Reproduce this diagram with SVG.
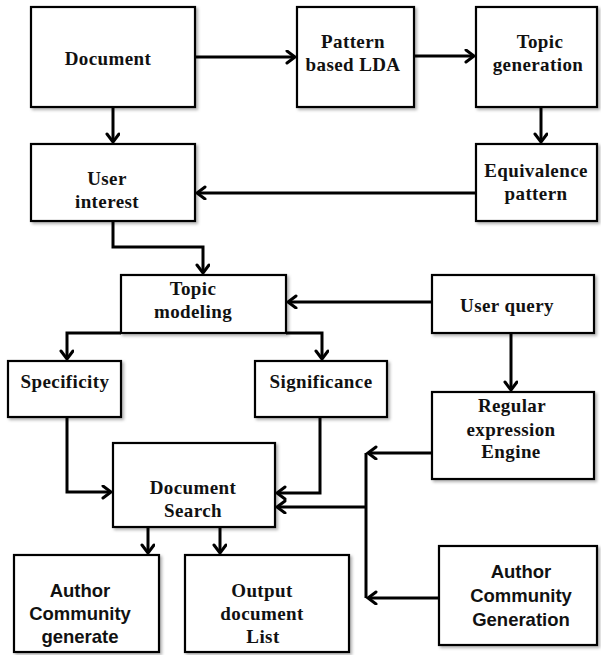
<svg xmlns="http://www.w3.org/2000/svg" width="601" height="655" viewBox="0 0 601 655">
<defs>
<filter id="sh" x="-10%" y="-10%" width="130%" height="130%">
<feDropShadow dx="2" dy="2" stdDeviation="1.5" flood-color="#000" flood-opacity="0.3"/>
</filter>
<marker id="ah" markerWidth="14" markerHeight="16" refX="10" refY="7" orient="auto" markerUnits="userSpaceOnUse">
<path d="M2,1 L10,7 L2,13" fill="none" stroke="#000" stroke-width="3" stroke-linecap="round" stroke-linejoin="miter"/>
</marker>
</defs>
<style>
rect{fill:#fff;stroke:#000;stroke-width:2.2;filter:url(#sh)}
text{font-family:"Liberation Serif","Times New Roman",serif;font-weight:bold;font-size:19px;fill:#111;text-anchor:middle;letter-spacing:0.4px}
text.s{font-family:"Liberation Sans",Arial,sans-serif;font-size:18.5px;letter-spacing:0}
.c path{fill:none;stroke:#000;stroke-width:3}
.c .a{marker-end:url(#ah)}
</style>
<rect x="0" y="0" width="601" height="655" style="fill:#fff;stroke:none;filter:none"/>
<g class="c" id="connectors">
<path class="a" d="M195,57 H295"/>
<path class="a" d="M414,56 H474"/>
<path class="a" d="M541,107 V142"/>
<path class="a" d="M476,193 H197"/>
<path class="a" d="M113,107 V142"/>
<path class="a" d="M113,221 V247 H203 V273"/>
<path class="a" d="M432,302 H288"/>
<path class="a" d="M121,333 H67 V359"/>
<path class="a" d="M286,333 H322 V359"/>
<path class="a" d="M511,333 V390"/>
<path class="a" d="M67,417 V492 H111"/>
<path class="a" d="M320,417 V493 H277"/>
<path d="M366,453 V598"/>
<path class="a" d="M366,507 H277"/>
<path class="a" d="M432,453 H368"/>
<path class="a" d="M439,598 H368"/>
<path class="a" d="M148,527 V553"/>
<path class="a" d="M220,527 V553"/>
</g>
<g id="document"><rect x="31" y="7" width="164" height="100"/><text x="108" y="65">Document</text></g>
<g id="pattern-lda"><rect x="297" y="7" width="117" height="100"/><text x="353" y="48">Pattern</text><text x="353" y="71">based LDA</text></g>
<g id="topic-generation"><rect x="476" y="7" width="121" height="100"/><text x="540" y="48">Topic</text><text x="538" y="71">generation</text></g>
<g id="user-interest"><rect x="31" y="144" width="164" height="77"/><text x="107" y="185">User</text><text x="107" y="208">interest</text></g>
<g id="equivalence"><rect x="476" y="144" width="121" height="77"/><text x="536" y="177">Equivalence</text><text x="536" y="200">pattern</text></g>
<g id="topic-modeling"><rect x="121" y="275" width="165" height="58"/><text x="193" y="295">Topic</text><text x="193" y="318">modeling</text></g>
<g id="user-query"><rect x="432" y="275" width="162" height="58"/><text x="507" y="312">User query</text></g>
<g id="specificity"><rect x="8" y="361" width="113" height="56"/><text x="65" y="388">Specificity</text></g>
<g id="significance"><rect x="255" y="361" width="132" height="56"/><text x="321" y="388">Significance</text></g>
<g id="regex-engine"><rect x="432" y="392" width="162" height="87"/><text x="512" y="412">Regular</text><text x="511" y="436">expression</text><text x="511" y="458">Engine</text></g>
<g id="document-search"><rect x="113" y="443" width="162" height="84"/><text x="193" y="494">Document</text><text x="193" y="517">Search</text></g>
<g id="author-generate"><rect x="14" y="555" width="145" height="97"/><text class="s" x="80" y="597">Author</text><text class="s" x="80" y="620">Community</text><text class="s" x="80" y="643">generate</text></g>
<g id="output-list"><rect x="185" y="555" width="164" height="97"/><text x="262" y="597">Output</text><text x="262" y="620">document</text><text x="263" y="643">List</text></g>
<g id="author-generation"><rect x="439" y="546" width="158" height="99"/><text class="s" x="521" y="578">Author</text><text class="s" x="521" y="602">Community</text><text class="s" x="521" y="626">Generation</text></g>
</svg>
